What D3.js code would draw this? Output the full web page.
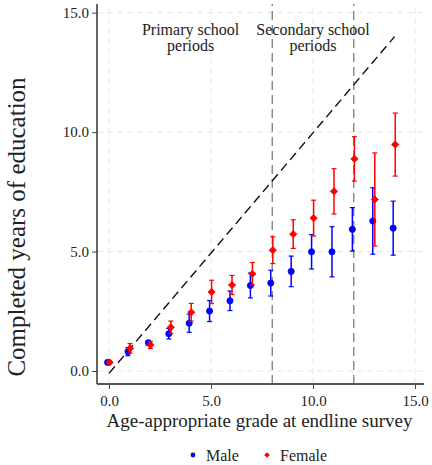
<!DOCTYPE html>
<html><head><meta charset="utf-8">
<script src="https://cdn.jsdelivr.net/npm/d3@7"></script>
<style>
html,body{margin:0;padding:0;background:#fff;}
text{font-family:"Liberation Serif","Times New Roman",serif;fill:#222;}
</style></head>
<body><svg id="c" width="432" height="465"></svg>
<script>
const grades = [0,1,2,3,4,5,6,7,8,9,10,11,12,13,14];
const maleMean = [0.36,0.81,1.18,1.56,2.00,2.51,2.94,3.58,3.68,4.17,4.99,4.99,5.93,6.28,5.98];
const maleErr  = [0.05,0.17,0.10,0.22,0.38,0.44,0.41,0.52,0.54,0.64,0.72,1.05,0.91,1.39,1.13];
const femaleMean = [0.36,0.95,1.09,1.83,2.46,3.31,3.60,4.07,5.06,5.73,6.40,7.52,8.88,7.18,9.48];
const femaleErr  = [0.05,0.20,0.15,0.26,0.37,0.49,0.40,0.47,0.56,0.60,0.75,0.95,0.93,1.95,1.32];
const tickValues = [0,5,10,15];
const periodBreaks = [8,12];
const periodLabels = [["Primary school","periods",4],["Secondary school","periods",10]];
const seriesNames = ["Male","Female"];
const seriesColors = ["#0000ff","#ff0000"];

const svg = d3.select("#c");
const x = d3.scaleLinear().domain([0,15]).range([109,415]);
const y = d3.scaleLinear().domain([0,15]).range([371,12.7]);
const xMin = x.invert(97), xMax = x.invert(424), yMin = y.invert(384), yMax = y.invert(4);

// grid
const g = svg.append("g");
tickValues.forEach(v=>{
  g.append("line").attr("x1",x(v)).attr("x2",x(v)).attr("y1",y(yMin)).attr("y2",y(yMax))
    .attr("stroke","#e6e6e6").attr("stroke-width",1).attr("stroke-dasharray","6,4");
  g.append("line").attr("y1",y(v)).attr("y2",y(v)).attr("x1",x(xMin)).attr("x2",x(xMax))
    .attr("stroke","#e6e6e6").attr("stroke-width",1).attr("stroke-dasharray","6,4");
});
// period breaks
periodBreaks.forEach(v=>{
  g.append("line").attr("x1",x(v)).attr("x2",x(v)).attr("y1",y(yMin)).attr("y2",y(yMax))
    .attr("stroke","#555").attr("stroke-width",1).attr("stroke-dasharray","9,5");
});
// diagonal
g.append("line").attr("x1",x(0)).attr("y1",y(-0.1)).attr("x2",x(14)).attr("y2",y(14))
  .attr("stroke","#111").attr("stroke-width",1.4).attr("stroke-dasharray","9,5");

// labels
periodLabels.forEach(([a,b,v])=>{
  svg.append("text").attr("text-anchor","middle").attr("font-size",16)
    .attr("x",x(v)).attr("y",y(14.08)).text(a);
  svg.append("text").attr("text-anchor","middle").attr("font-size",16)
    .attr("x",x(v)).attr("y",y(13.4)).text(b);
});

// axes
const ax = svg.append("g").attr("transform",`translate(0,${y(yMin)})`)
  .call(d3.axisBottom(x).tickValues(tickValues).tickFormat(d3.format(".1f")).tickSize(5).tickSizeOuter(0));
ax.select(".domain").remove();
ax.selectAll("text").attr("font-size",15).attr("font-family","Liberation Serif").attr("fill","#222").attr("dy","0.9em");
ax.selectAll("line").attr("stroke","#444");
const ay = svg.append("g").attr("transform",`translate(${x(xMin)},0)`)
  .call(d3.axisLeft(y).tickValues(tickValues).tickFormat(d3.format(".1f")).tickSize(5).tickSizeOuter(0));
ay.select(".domain").remove();
ay.selectAll("text").attr("font-size",15).attr("font-family","Liberation Serif").attr("fill","#222");
ay.selectAll("line").attr("stroke","#444");
svg.append("line").attr("x1",x(xMin)).attr("x2",x(xMin)).attr("y1",y(yMin)).attr("y2",y(yMax))
  .attr("stroke","#333").attr("stroke-width",1.5);
svg.append("line").attr("x1",x(xMin)).attr("x2",x(xMax)).attr("y1",y(yMin)).attr("y2",y(yMin))
  .attr("stroke","#555").attr("stroke-width",2);

svg.append("text").attr("x",(x(xMin)+x(xMax))/2-1).attr("y",427).attr("text-anchor","middle")
  .attr("font-size",19).text("Age-appropriate grade at endline survey");
svg.append("text").attr("transform",`translate(25,${(y(yMin)+y(yMax))/2+33}) rotate(-90)`)
  .attr("text-anchor","middle").attr("font-size",25).text("Completed years of education");

// data
const series = [
  {name:seriesNames[0], color:seriesColors[0], mean:maleMean, err:maleErr, off:-0.07, shape:d3.symbolCircle, size:30, rot:0},
  {name:seriesNames[1], color:seriesColors[1], mean:femaleMean, err:femaleErr, off:0.03, shape:d3.symbolSquare, size:26, rot:45}
];
series.forEach(s=>{
  const sg = svg.append("g");
  grades.forEach((gr,i)=>{
    const cx = x(gr+s.off), lo = y(s.mean[i]-s.err[i]), hi = y(s.mean[i]+s.err[i]);
    sg.append("line").attr("x1",cx).attr("x2",cx).attr("y1",lo).attr("y2",hi).attr("stroke",s.color).attr("stroke-width",1.5);
    [lo,hi].forEach(yy=>sg.append("line").attr("x1",cx-2.5).attr("x2",cx+2.5).attr("y1",yy).attr("y2",yy)
      .attr("stroke",s.color).attr("stroke-width",1.2));
    sg.append("path").attr("d",d3.symbol(s.shape,s.size)())
      .attr("transform",`translate(${cx},${y(s.mean[i])}) rotate(${s.rot})`)
      .attr("fill",s.color).attr("stroke",s.color).attr("stroke-width",0.8).attr("stroke-linejoin","round");
  });
});

// legend
const legendX = [193,267];
series.forEach((s,i)=>{
  svg.append("path").attr("d",d3.symbol(s.shape,s.size*0.6)()).attr("transform",`translate(${legendX[i]},455) rotate(${s.rot})`).attr("fill",s.color);
  svg.append("text").attr("x",legendX[i]+13).attr("y",461).attr("font-size",16).text(s.name);
});
</script></body></html>
